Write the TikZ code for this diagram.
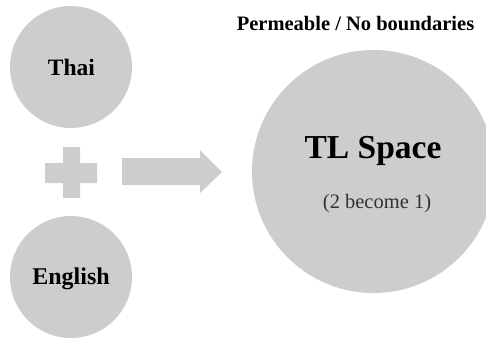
\documentclass[tikz,border=0pt]{standalone}
\usepackage{fontspec}
\setmainfont{Liberation Serif}
\definecolor{blobgray}{RGB}{205,205,205}
\definecolor{subtxt}{RGB}{50,50,50}
\begin{document}
\begin{tikzpicture}[x=1pt,y=-1pt,
  blob/.style={circle,fill=blobgray,draw=none,inner sep=0pt},
  lbl/.style={anchor=base,inner sep=0pt}]
\useasboundingbox (0,0) rectangle (486,338);
\clip (0,0) rectangle (486,338);
% circles
\node[blob,minimum size=122pt] (thai) at (71,67) {};
\node[blob,minimum size=122pt] (eng) at (71,277) {};
\node[blob,minimum size=243pt] (tl) at (373.5,171.5) {};
% plus sign
\fill[blobgray] (63,147) -- (80,147) -- (80,163) -- (97,163) -- (97,183) -- (80,183)
  -- (80,198) -- (63,198) -- (63,183) -- (45,183) -- (45,163) -- (63,163) -- cycle;
% block arrow
\fill[blobgray] (122,158) -- (200,158) -- (200,150) -- (222,172) -- (200,193)
  -- (200,185) -- (122,185) -- cycle;
% labels
\node[lbl,font=\bfseries\fontsize{23.5}{28}\selectfont] (tthai) at (71.5,75) {Thai};
\node[lbl,font=\bfseries\fontsize{24}{29}\selectfont] (teng) at (71,284) {English};
\node[lbl,font=\bfseries\fontsize{33.5}{40}\selectfont] (ttl) at (373,158) {TL Space};
\node[lbl,text=subtxt,font=\fontsize{20.5}{24}\selectfont] (tsub) at (377,208) {(2 become 1)};
\node[lbl,font=\bfseries\fontsize{20.5}{24}\selectfont] (title) at (355.5,30) {Permeable / No boundaries};
\end{tikzpicture}
\end{document}
